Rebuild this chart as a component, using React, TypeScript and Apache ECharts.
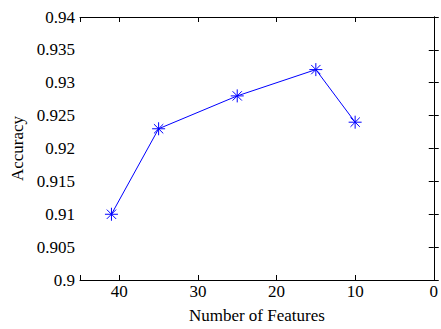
import React, { useEffect, useRef } from "react";
import * as echarts from "echarts";

const numFeatures = [41, 35, 25, 15, 10];
const accuracy = [0.91, 0.923, 0.928, 0.932, 0.924];
const xTitle = "Number of Features";
const yTitle = "Accuracy";

const FONT = "'Liberation Serif', 'Times New Roman', serif";
const asterisk =
  "path://M0,-6L0,6M-6,0L6,0M-4.3,-4.3L4.3,4.3M-4.3,4.3L4.3,-4.3";

export default function App() {
  const ref = useRef<HTMLDivElement>(null);
  useEffect(() => {
    const chart = echarts.init(ref.current!, null, { renderer: "svg" });
    const axisLine = { show: true, lineStyle: { color: "#000", width: 1 } };
    const tick = { show: true, inside: true, length: 5, lineStyle: { color: "#000" } };
    chart.setOption({
      animation: false,
      backgroundColor: "#fff",
      grid: { left: 80, right: 4, top: 17, bottom: 41 },
      xAxis: [
        {
          type: "value",
          inverse: true,
          min: 0,
          max: 45,
          interval: 10,
          name: xTitle,
          nameLocation: "middle",
          nameGap: 27,
          nameTextStyle: { fontFamily: FONT, fontSize: 17, color: "#000" },
          axisLine,
          axisTick: tick,
          axisLabel: {
            fontFamily: FONT,
            fontSize: 17,
            color: "#000",
            margin: 3,
            formatter: (v: number) => (v === 45 ? "" : String(v)),
          },
          splitLine: { show: false },
        },
        {
          type: "value",
          inverse: true,
          position: "top",
          min: 0,
          max: 45,
          interval: 10,
          axisLine,
          axisTick: tick,
          axisLabel: { show: false },
          splitLine: { show: false },
        },
      ],
      yAxis: [
        {
          type: "value",
          min: 0.9,
          max: 0.94,
          interval: 0.005,
          name: yTitle,
          nameLocation: "middle",
          nameGap: 48,
          nameTextStyle: { fontFamily: FONT, fontSize: 17, color: "#000" },
          axisLine,
          axisTick: tick,
          axisLabel: { fontFamily: FONT, fontSize: 17, color: "#000", margin: 5 },
          splitLine: { show: false },
        },
        {
          type: "value",
          position: "right",
          min: 0.9,
          max: 0.94,
          interval: 0.005,
          axisLine,
          axisTick: tick,
          axisLabel: { show: false },
          splitLine: { show: false },
        },
      ],
      series: [
        {
          type: "line",
          data: numFeatures.map((x, i) => [x, accuracy[i]]),
          lineStyle: { color: "#0000ff", width: 1 },
          symbol: asterisk,
          symbolSize: 13,
          itemStyle: { color: "none", borderColor: "#0000ff", borderWidth: 1 },
        },
      ],
    });
    return () => chart.dispose();
  }, []);
  return (
    <div
      ref={ref}
      style={{ position: "fixed", left: 0, top: 0, width: 441, height: 329 }}
    />
  );
}
